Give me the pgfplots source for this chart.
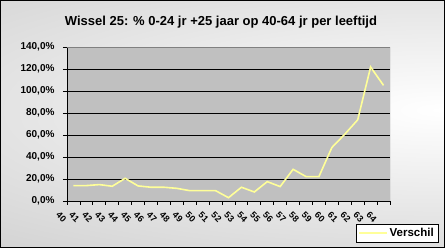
\documentclass[border=0pt]{standalone}
\usepackage{pgfplots}
\pgfplotsset{compat=1.18}
\usepackage{fontspec}
\setmainfont{Liberation Sans}
\definecolor{bggray}{RGB}{192,192,192}
\definecolor{plotgray}{RGB}{192,192,192}
\definecolor{lineyellow}{RGB}{255,255,153}
\definecolor{bordergray}{RGB}{128,128,128}
\begin{document}
\begin{tikzpicture}[x=1pt,y=1pt]
\begin{scope}
\clip (0,0) rectangle (445,248);
\fill[bggray] (0,0) rectangle (445,248);
\shade[inner color=white, outer color=bggray] (440,138) ellipse (1000 and 260);
\end{scope}
\draw[black, line width=1pt] (0.5,0.5) rectangle (444.5,247.5);
\node[font=\bfseries\fontsize{13}{15}\selectfont] at (221,226) {Wissel 25: \% 0-24 jr +25 jaar op 40-64 jr per leeftijd};
\begin{axis}[
  at={(67pt,47pt)}, anchor=south west,
  width=323pt, height=154pt, scale only axis,
  xmin=39.5, xmax=64.5, ymin=0, ymax=140,
  axis lines=left, axis line style={-, black, line width=0.8pt},
  axis background/.style={fill=plotgray},
  ymajorgrids, major grid style={black, line width=0.9pt},
  tick align=outside, major tick length=4pt, minor tick length=4pt,
  tick style={black, line width=0.8pt},
  ytick={0,20,...,140},
  yticklabels={{0,0\%},{20,0\%},{40,0\%},{60,0\%},{80,0\%},{100,0\%},{120,0\%},{140,0\%}},
  yticklabel style={xshift=-5pt},
  xtick={40,41,...,64},
  major x tick style={draw=none},
  minor xtick={39.5,40.5,...,64.5},
  minor x tick style={draw=black, line width=0.8pt},
  xticklabels={40,41,42,43,44,45,46,47,48,49,50,51,52,53,54,55,56,57,58,59,60,61,62,63,64},
  tick label style={font=\bfseries\fontsize{10}{12}\selectfont},
  xticklabel style={rotate=-45, anchor=center, inner sep=0pt, yshift=-17pt, font=\bfseries\fontsize{9}{10}\selectfont},
  legend style={at={(1.1486,-0.266)}, anchor=south east, draw=black, fill=white,
    font=\bfseries\fontsize{11.5}{13}\selectfont, inner sep=2pt},
  legend cell align=left,
  legend image code/.code={\draw[#1] (0pt,0pt) -- (28pt,0pt);},
]
\addplot[lineyellow, line width=1.6pt, mark=none] coordinates {
(40,14.0) (41,14.0) (42,14.9) (43,13.4) (44,20.6) (45,13.7) (46,12.5) (47,12.5)
(48,11.5) (49,9.4) (50,9.4) (51,9.4) (52,3.0) (53,12.5) (54,8.2) (55,17.6)
(56,13.1) (57,28.8) (58,22.2) (59,22.2) (60,48.6) (61,60.7) (62,73.8) (63,121.8) (64,105.1)
};
\addlegendentry{Verschil}
\draw[bordergray, line width=0.9pt] (rel axis cs:0,1) -- (rel axis cs:1,1) -- (rel axis cs:1,0);
\end{axis}
\end{tikzpicture}
\end{document}
